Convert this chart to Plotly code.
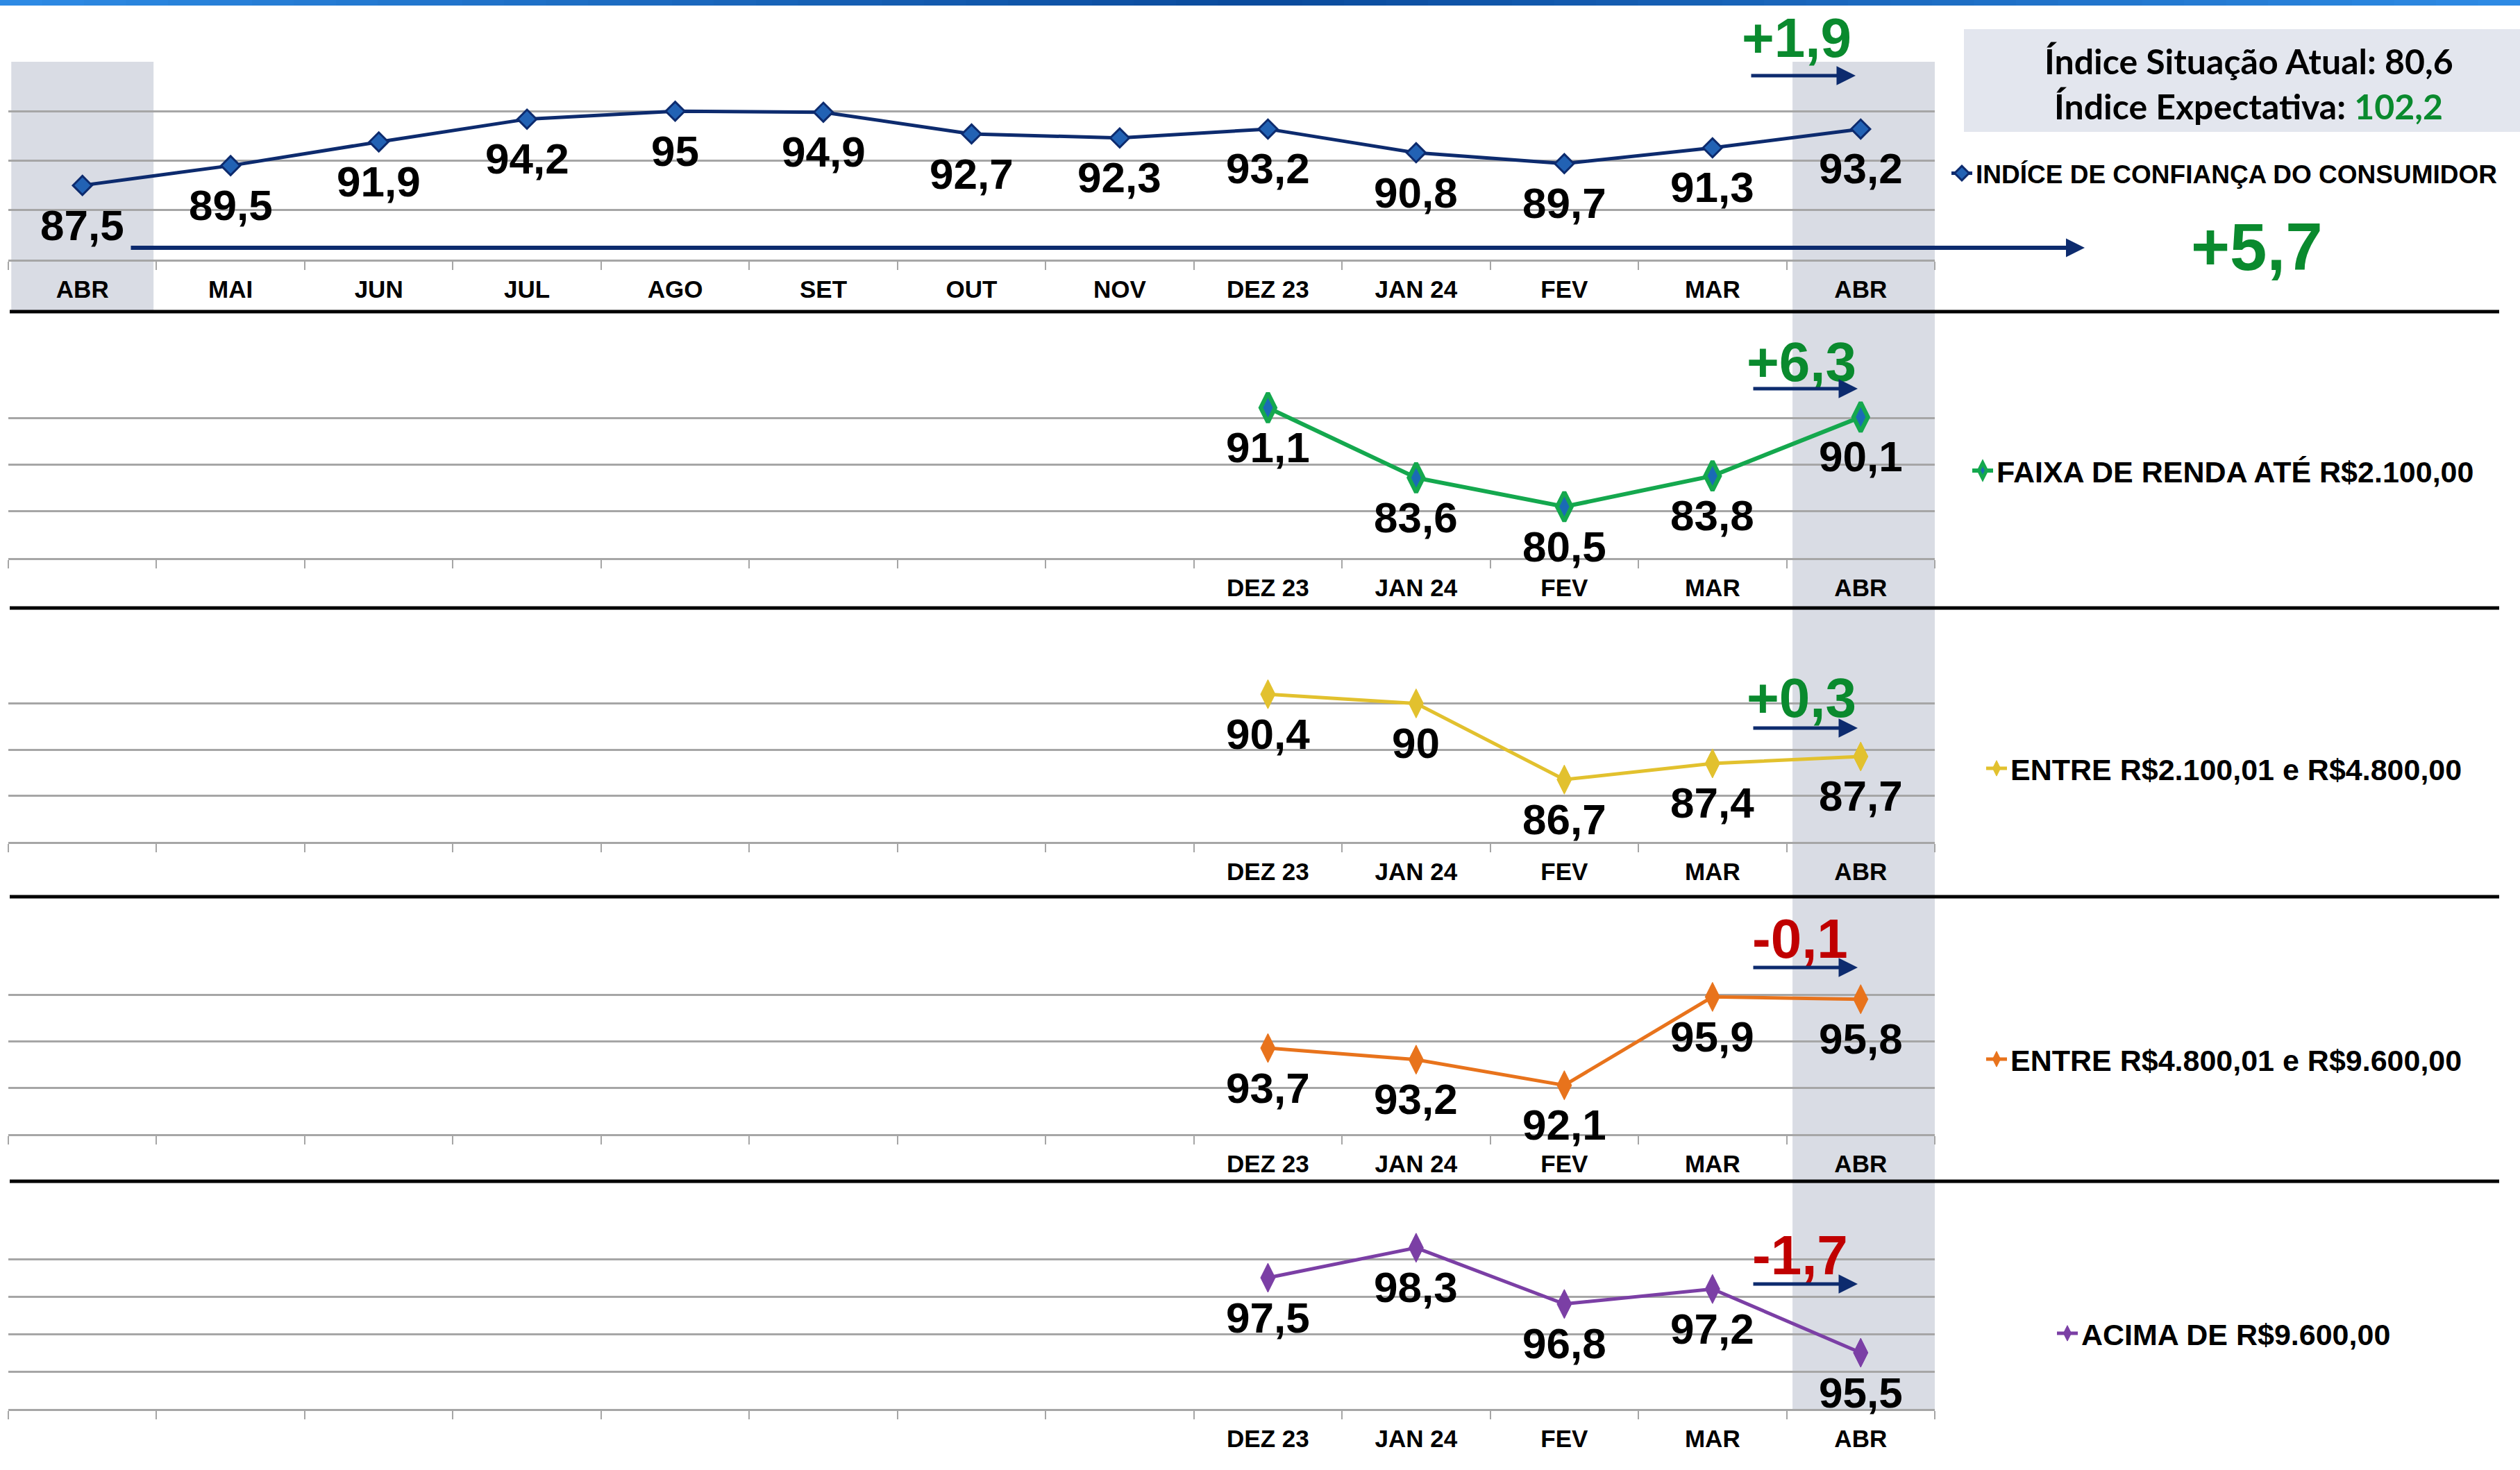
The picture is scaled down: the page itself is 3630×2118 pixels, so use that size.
import plotly.graph_objects as go

W, H = 3630, 2118

# ---------------- data ----------------
months_all = ["ABR", "MAI", "JUN", "JUL", "AGO", "SET", "OUT", "NOV", "DEZ 23", "JAN 24", "FEV", "MAR", "ABR"]
icc_values = [87.5, 89.5, 91.9, 94.2, 95, 94.9, 92.7, 92.3, 93.2, 90.8, 89.7, 91.3, 93.2]

months_recent = ["DEZ 23", "JAN 24", "FEV", "MAR", "ABR"]
renda_ate_2100 = [91.1, 83.6, 80.5, 83.8, 90.1]
renda_2100_4800 = [90.4, 90, 86.7, 87.4, 87.7]
renda_4800_9600 = [93.7, 93.2, 92.1, 95.9, 95.8]
renda_acima_9600 = [97.5, 98.3, 96.8, 97.2, 95.5]

series_names = [
    "INDÍCE DE CONFIANÇA DO CONSUMIDOR",
    "FAIXA DE RENDA ATÉ R$2.100,00",
    "ENTRE R$2.100,01 e R$4.800,00",
    "ENTRE R$4.800,01 e R$9.600,00",
    "ACIMA DE R$9.600,00",
]
monthly_change = ["+1,9", "+6,3", "+0,3", "-0,1", "-1,7"]
yearly_change = "+5,7"
indice_situacao_atual = "80,6"
indice_expectativa = "102,2"

# ---------------- style ----------------
NAVY = "#0d2b6e"
GREEN_TXT = "#0a8a2e"
RED_TXT = "#c00000"
GRID = "#a6a6a6"
BAND = "#d9dce4"
LABEL_FONT = "Liberation Sans, Arial, sans-serif"
BOX_FONT = "Lato, Liberation Sans, sans-serif"

panels_px = [(89, 374), (535, 804), (947, 1213), (1366, 1634), (1760, 2030)]
y_ranges = [(80, 100), (75, 95), (84, 92), (90, 98), (94, 99)]
y_dticks = [5, 5, 2, 2, 1]
x_left_px, x_right_px = 12, 2787

styles = [
    dict(line=dict(color=NAVY, width=5), marker=dict(symbol="diamond", size=21, color="#2262b4", line=dict(color=NAVY, width=3))),
    dict(line=dict(color="#14a84e", width=6), marker=dict(symbol="diamond-tall", size=30, color="#1a6bb5", line=dict(color="#14a84e", width=6))),
    dict(line=dict(color="#e2c12e", width=5), marker=dict(symbol="diamond-tall", size=30, color="#e2c12e", line=dict(color="#e2c12e", width=1))),
    dict(line=dict(color="#e8731c", width=5), marker=dict(symbol="diamond-tall", size=30, color="#e8731c", line=dict(color="#e8731c", width=1))),
    dict(line=dict(color="#7b3fa5", width=5), marker=dict(symbol="diamond-tall", size=30, color="#7b3fa5", line=dict(color="#7b3fa5", width=1))),
]
legend_font_sizes = [37, 43, 43, 43, 43]
legend_pos = [(2830, 250), (2860, 678), (2880, 1107), (2880, 1526), (2982, 1921)]

def px_x(x):
    return x / W

def px_y(y):
    return 1 - y / H

def fmt(v):
    return f"{v:g}".replace(".", ",")

fig = go.Figure()

n_all = len(months_all)
offset = n_all - len(months_recent)
positions_all = list(range(n_all))
positions_recent = [offset + i for i in range(len(months_recent))]

all_series = [icc_values, renda_ate_2100, renda_2100_4800, renda_4800_9600, renda_acima_9600]

ann = []
for i, vals in enumerate(all_series):
    xs = positions_all if i == 0 else positions_recent
    suffix = "" if i == 0 else str(i + 1)
    lg = "legend" + suffix
    fig.add_trace(go.Scatter(
        x=xs, y=vals, mode="lines+markers",
        cliponaxis=False, name=f"<b>{series_names[i]}</b>", legend=lg, showlegend=True,
        xaxis="x" + suffix, yaxis="y" + suffix, hoverinfo="skip",
        **styles[i],
    ))
    for xv, yv in zip(xs, vals):
        ann.append(dict(xref="x" + suffix, yref="y" + suffix, x=xv, y=yv, yshift=-57,
                        text=f"<b>{fmt(yv)}</b>", showarrow=False,
                        xanchor="center", yanchor="middle",
                        font=dict(family=LABEL_FONT, size=62, color="black")))

layout = dict(
    width=W, height=H, autosize=False, showlegend=True,
    margin=dict(l=0, r=0, t=0, b=0),
    paper_bgcolor="white", plot_bgcolor="rgba(0,0,0,0)",
)

for i in range(5):
    suffix = "" if i == 0 else str(i + 1)
    top, bot = panels_px[i]
    ticktext = months_all if i == 0 else [""] * offset + months_recent
    layout["xaxis" + suffix] = dict(
        domain=[px_x(x_left_px), px_x(x_right_px)], range=[-0.5, n_all - 0.5],
        anchor="y" + suffix, tickmode="array", tickvals=positions_all, ticktext=ticktext,
        ticks="outside", ticklen=10, tickcolor="rgba(0,0,0,0)",
        tickfont=dict(family=LABEL_FONT, size=35, color="black", weight="bold"),
        showgrid=False, zeroline=False, showline=True, linecolor=GRID, linewidth=3,
        minor=dict(tickmode="array", tickvals=[k - 0.5 for k in range(n_all + 1)],
                   ticks="outside", ticklen=12, tickcolor=GRID, tickwidth=2, showgrid=False),
        fixedrange=True,
    )
    layout["yaxis" + suffix] = dict(
        domain=[px_y(bot), px_y(top)], range=list(y_ranges[i]), anchor="x" + suffix,
        dtick=y_dticks[i], tick0=y_ranges[i][0], showticklabels=False, ticks="",
        showgrid=True, gridcolor=GRID, gridwidth=3, zeroline=False, showline=False,
        fixedrange=True,
    )
    lx, ly = legend_pos[i]
    layout["legend" + suffix] = dict(
        x=px_x(lx - 24), y=px_y(ly), xanchor="left", yanchor="middle",
        bgcolor="rgba(0,0,0,0)", borderwidth=0, itemwidth=30, visible=True,
        font=dict(family=LABEL_FONT, size=legend_font_sizes[i], color="black"),
    )

fig.update_layout(**layout)

shapes = []
nseg = 60
c_edge = (46, 140, 230)
c_mid = (10, 74, 156)
for k in range(nseg):
    t = abs((k + 0.5) / nseg - 0.5) * 2
    c = tuple(int(c_mid[j] + (c_edge[j] - c_mid[j]) * t) for j in range(3))
    shapes.append(dict(type="rect", xref="paper", yref="paper",
                       x0=k / nseg, x1=(k + 1) / nseg + 0.001, y0=px_y(8), y1=1,
                       fillcolor=f"rgb{c}", line=dict(width=0), layer="below"))
shapes.append(dict(type="rect", xref="x", yref="paper", x0=-0.48, x1=0.48,
                   y0=px_y(449), y1=px_y(89), fillcolor=BAND, line=dict(width=0), layer="below"))
shapes.append(dict(type="rect", xref="x", yref="paper", x0=n_all - 1 - 0.46, x1=n_all - 0.5,
                   y0=px_y(2032), y1=px_y(89), fillcolor=BAND, line=dict(width=0), layer="below"))
shapes.append(dict(type="rect", xref="paper", yref="paper", x0=px_x(2829), x1=1,
                   y0=px_y(190), y1=px_y(42), fillcolor="#e3e6ee", line=dict(width=0), layer="below"))
for ysep in [449, 876, 1292, 1702]:
    shapes.append(dict(type="line", xref="paper", yref="paper", x0=px_x(14), x1=px_x(3600),
                       y0=px_y(ysep), y1=px_y(ysep), line=dict(color="black", width=5), layer="above"))
fig.update_layout(shapes=shapes)

chg_pos = [(2588, 54), (2595, 521), (2595, 1005), (2593, 1352), (2593, 1808)]
arrow_pos = [(2673, 109), (2676, 560), (2676, 1049), (2676, 1394), (2676, 1850)]
for i, txt in enumerate(monthly_change):
    col = GREEN_TXT if txt.startswith("+") else RED_TXT
    cx, cy = chg_pos[i]
    ann.append(dict(xref="paper", yref="paper", x=px_x(cx), y=px_y(cy), text=f"<b>{txt}</b>",
                    showarrow=False, xanchor="center", yanchor="middle",
                    font=dict(family=LABEL_FONT, size=80, color=col)))
    ax_, ay_ = arrow_pos[i]
    ann.append(dict(xref="paper", yref="paper", x=px_x(ax_), y=px_y(ay_), text="",
                    showarrow=True, ax=-152, ay=0, arrowhead=2, arrowsize=1.1, arrowwidth=5,
                    arrowcolor=NAVY, standoff=0, startstandoff=0))
ann.append(dict(xref="paper", yref="paper", x=px_x(3003), y=px_y(357), text="",
                showarrow=True, ax=-(3003 - 187), ay=0, arrowhead=2, arrowsize=0.9, arrowwidth=6,
                arrowcolor=NAVY, standoff=0, startstandoff=0))
ann.append(dict(xref="paper", yref="paper", x=px_x(3251), y=px_y(355), text=f"<b>{yearly_change}</b>",
                showarrow=False, xanchor="center", yanchor="middle",
                font=dict(family=LABEL_FONT, size=96, color=GREEN_TXT)))
ann.append(dict(xref="paper", yref="paper", x=px_x(3239), y=px_y(88),
                text=f"<b>Índice Situação Atual: {indice_situacao_atual}</b>",
                showarrow=False, xanchor="center", yanchor="middle",
                font=dict(family=BOX_FONT, size=50, color="black")))
ann.append(dict(xref="paper", yref="paper", x=px_x(3239), y=px_y(153),
                text=f"<b>Índice Expectativa: <span style='color:{GREEN_TXT}'>{indice_expectativa}</span></b>",
                showarrow=False, xanchor="center", yanchor="middle",
                font=dict(family=BOX_FONT, size=50, color="black")))
fig.update_layout(annotations=ann)

fig.write_html("out.html", config={"displayModeBar": False},
               post_script="document.body.style.margin='0';document.body.style.overflow='hidden';")
